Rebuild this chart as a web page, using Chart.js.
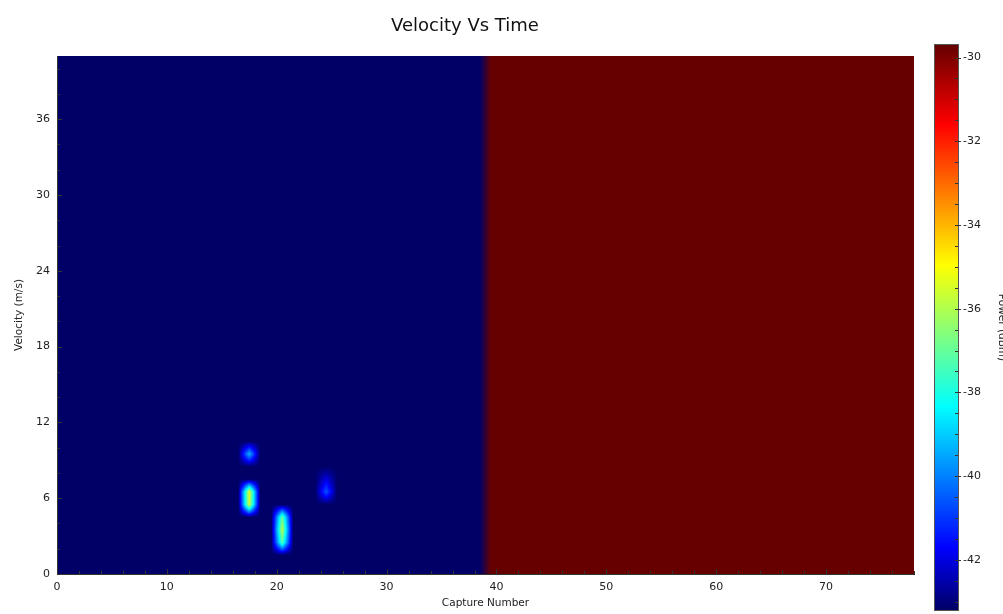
<!DOCTYPE html>
<html>
<head>
<meta charset="utf-8">
<title>Velocity Vs Time</title>
<script src="https://cdn.jsdelivr.net/npm/chart.js@4.4.1/dist/chart.umd.min.js"></script>
<style>
  html, body { margin: 0; padding: 0; background: #fff; overflow: hidden; }
  #wrap { position: relative; width: 1003px; height: 614px; overflow: hidden; }
  #main { position: absolute; left: 0; top: 0; }
  #bar { position: absolute; left: 925px; top: 0; }
</style>
</head>
<body>
<div id="wrap">
  <canvas id="main" width="1003" height="614"></canvas>
  <canvas id="bar" width="95" height="614"></canvas>
</div>
<script>
// axis extents
const captureMax = 78;      // capture bins 0..77
const captureStep = 1;
const velocityMax = 41;     // velocity bins 0..40 (m/s)
const velocityStep = 1;
const powerMin = -43.2;     // colour scale (dBm)
const powerMax = -29.7;

// background level, piecewise over capture numbers
const segmentFrom = [0, 39];
const segmentTo = [39, 78];
const segmentPower = [-43.2, -29.7];

// detections (capture bin, velocity bin, power dBm)
const peakCapture  = [17,    17,    17,    20,    20,    20,    24,    24];
const peakVelocity = [9,     5,     6,     2,     3,     4,     6,     7];
const peakPower    = [-39.3, -35.6, -35.3, -37.2, -35.9, -37.0, -40.6, -42.0];

const xTickStep = 10, xMinorStep = 2;
const yTickStep = 6,  yMinorStep = 2;
const cTickStep = 2,  cMinorStep = 0.5;

const jetStops = [
  [0.00, 0, 0, 102],
  [0.11, 0, 0, 255],
  [0.36, 0, 255, 255],
  [0.61, 255, 255, 0],
  [0.86, 255, 0, 0],
  [1.00, 102, 0, 0]
];

function jet(v) {
  let t = (v - powerMin) / (powerMax - powerMin);
  t = Math.min(1, Math.max(0, t));
  for (let i = 1; i < jetStops.length; i++) {
    const a = jetStops[i - 1], b = jetStops[i];
    if (t <= b[0]) {
      const k = (t - a[0]) / (b[0] - a[0]);
      return [a[1] + (b[1] - a[1]) * k, a[2] + (b[2] - a[2]) * k, a[3] + (b[3] - a[3]) * k];
    }
  }
  const l = jetStops[jetStops.length - 1];
  return [l[1], l[2], l[3]];
}

function buildGrid() {
  const cols = Math.round(captureMax / captureStep);
  const rows = Math.round(velocityMax / velocityStep);
  const grid = [];
  for (let r = 0; r < rows; r++) {
    const row = [];
    for (let c = 0; c < cols; c++) {
      let p = powerMin;
      for (let s = 0; s < segmentFrom.length; s++) {
        if (c >= segmentFrom[s] && c < segmentTo[s]) p = segmentPower[s];
      }
      row.push(p);
    }
    grid.push(row);
  }
  for (let i = 0; i < peakCapture.length; i++) {
    grid[peakVelocity[i]][peakCapture[i]] = peakPower[i];
  }
  return grid;
}

const grid = buildGrid();

const heatmap = {
  id: 'heatmap',
  beforeDraw(chart) {
    const { ctx, chartArea: a, scales: { x, y } } = chart;
    const rows = grid.length, cols = grid[0].length;
    const w = Math.round(a.right - a.left), h = Math.round(a.bottom - a.top);
    const img = ctx.createImageData(w, h);
    const clampI = (i, n) => Math.max(0, Math.min(n - 1, i));
    for (let py = 0; py < h; py++) {
      const fy = y.getValueForPixel(a.top + py + 0.5) / velocityStep - 0.5;
      const r0 = Math.floor(fy), ty = fy - r0;
      const ra = clampI(r0, rows), rb = clampI(r0 + 1, rows);
      for (let px = 0; px < w; px++) {
        const fx = x.getValueForPixel(a.left + px + 0.5) / captureStep - 0.5;
        const c0 = Math.floor(fx), tx = fx - c0;
        const ca = clampI(c0, cols), cb = clampI(c0 + 1, cols);
        const v = [grid[ra][ca], grid[ra][cb], grid[rb][ca], grid[rb][cb]];
        const wt = [(1 - tx) * (1 - ty), tx * (1 - ty), (1 - tx) * ty, tx * ty];
        let col;
        if (Math.max(...v) - Math.min(...v) > 10) {
          // hard edge: blend colours
          col = [0, 0, 0];
          for (let k = 0; k < 4; k++) {
            const cc = jet(v[k]);
            col[0] += cc[0] * wt[k]; col[1] += cc[1] * wt[k]; col[2] += cc[2] * wt[k];
          }
        } else {
          col = jet(v[0] * wt[0] + v[1] * wt[1] + v[2] * wt[2] + v[3] * wt[3]);
        }
        const o = (py * w + px) * 4;
        img.data[o] = col[0]; img.data[o + 1] = col[1]; img.data[o + 2] = col[2]; img.data[o + 3] = 255;
      }
    }
    ctx.putImageData(img, Math.round(a.left), Math.round(a.top));
  }
};

function drawInsideTicks(ctx, scale, minorStep, majorStep, horizontal, edge, dir) {
  ctx.save();
  ctx.strokeStyle = '#333';
  ctx.lineWidth = 1;
  ctx.beginPath();
  for (let v = scale.min; v <= scale.max + 1e-9; v += minorStep) {
    const isMajor = Math.abs(v / majorStep - Math.round(v / majorStep)) < 1e-6;
    const len = isMajor ? 5 : 3;
    const p = Math.round(scale.getPixelForValue(v)) + 0.5;
    if (horizontal) { ctx.moveTo(p, edge); ctx.lineTo(p, edge + dir * len); }
    else { ctx.moveTo(edge, p); ctx.lineTo(edge + dir * len, p); }
  }
  ctx.stroke();
  ctx.restore();
}

const axisTicks = {
  id: 'axisTicks',
  afterDraw(chart) {
    const { ctx, chartArea: a, scales: { x, y } } = chart;
    drawInsideTicks(ctx, x, xMinorStep, xTickStep, true, a.bottom, -1);
    drawInsideTicks(ctx, y, yMinorStep, yTickStep, false, a.left, 1);
    ctx.save();
    ctx.font = '18px "DejaVu Sans"';
    ctx.fillStyle = '#111';
    ctx.textAlign = 'center';
    ctx.textBaseline = 'alphabetic';
    ctx.fillText('Velocity Vs Time', 465, 31);
    ctx.restore();
  }
};

const tickFont = { family: '"DejaVu Sans"', size: 11 };
const titleFont = { family: '"DejaVu Sans"', size: 10.5 };
const textColor = '#222';

new Chart(document.getElementById('main'), {
  type: 'scatter',
  data: { datasets: [] },
  options: {
    responsive: false,
    animation: false,
    layout: { padding: { left: 0, top: 56, right: 89, bottom: 0 } },
    plugins: { legend: { display: false }, tooltip: { enabled: false }, title: { display: false } },
    scales: {
      x: {
        type: 'linear', min: 0, max: captureMax,
        afterFit: s => { s.height = 40; },
        grid: { display: false, drawTicks: false },
        border: { display: true, color: '#333', width: 1 },
        ticks: { stepSize: xTickStep, includeBounds: false, padding: 7, font: tickFont, color: textColor, maxRotation: 0 },
        title: { display: true, text: 'Capture Number', font: titleFont, color: textColor, padding: { top: 0, bottom: 4 } }
      },
      y: {
        type: 'linear', min: 0, max: velocityMax,
        afterFit: s => { s.width = 57; },
        grid: { display: false, drawTicks: false },
        border: { display: true, color: '#333', width: 1 },
        ticks: { stepSize: yTickStep, includeBounds: false, padding: 7, font: tickFont, color: textColor },
        title: { display: true, text: 'Velocity (m/s)', font: titleFont, color: textColor, padding: { top: 13, bottom: 0 } }
      }
    }
  },
  plugins: [heatmap, axisTicks]
});

const colorBar = {
  id: 'colorBar',
  beforeDraw(chart) {
    const { ctx, chartArea: a, scales: { y } } = chart;
    for (let py = Math.round(a.top); py < Math.round(a.bottom); py++) {
      const c = jet(y.getValueForPixel(py + 0.5));
      ctx.fillStyle = `rgb(${c[0] | 0},${c[1] | 0},${c[2] | 0})`;
      ctx.fillRect(a.left, py, a.right - a.left, 1);
    }
  },
  afterDraw(chart) {
    const { ctx, chartArea: a, scales: { y } } = chart;
    ctx.save();
    ctx.strokeStyle = '#555';
    ctx.lineWidth = 1;
    ctx.strokeRect(a.left - 0.5, a.top - 0.5, a.right - a.left + 1, a.bottom - a.top + 1);
    ctx.strokeStyle = '#333';
    ctx.beginPath();
    const start = Math.ceil(y.min / cMinorStep) * cMinorStep;
    for (let v = start; v <= y.max + 1e-9; v += cMinorStep) {
      const isMajor = Math.abs(v / cTickStep - Math.round(v / cTickStep)) < 1e-6;
      const p = Math.round(y.getPixelForValue(v)) + 0.5;
      ctx.moveTo(a.right - 3, p);
      ctx.lineTo(a.right + (isMajor ? 3 : 0), p);
    }
    ctx.stroke();
    ctx.restore();
  }
};

new Chart(document.getElementById('bar'), {
  type: 'scatter',
  data: { datasets: [] },
  options: {
    responsive: false,
    animation: false,
    layout: { padding: { left: 10, top: 45, right: 0, bottom: 4 } },
    plugins: { legend: { display: false }, tooltip: { enabled: false } },
    scales: {
      x: { display: false, min: 0, max: 1 },
      y: {
        type: 'linear', position: 'right', min: powerMin, max: powerMax,
        afterFit: s => { s.width = 62; s.paddingTop = 0; s.paddingBottom = 0; },
        grid: { display: false, drawTicks: false },
        border: { display: false },
        ticks: { stepSize: cTickStep, includeBounds: false, padding: 5, font: tickFont, color: textColor },
        title: { display: true, text: 'Power (dBm)', font: titleFont, color: textColor, padding: { top: 12, bottom: 0 } }
      }
    }
  },
  plugins: [colorBar]
});
</script>
</body>
</html>
